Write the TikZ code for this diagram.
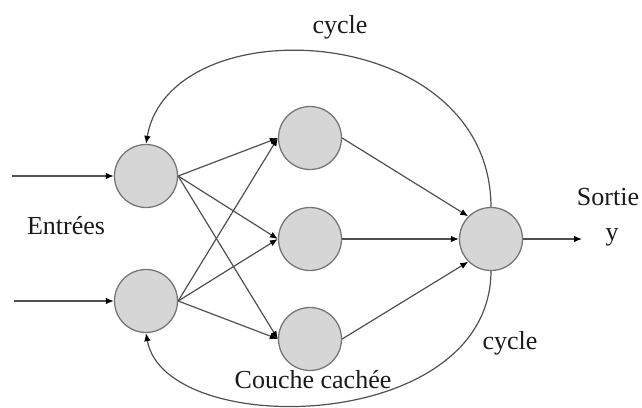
\documentclass[tikz,border=0pt]{standalone}
\usepackage{fontspec}
\setmainfont{Liberation Serif}
\usetikzlibrary{arrows.meta}
\definecolor{edgegray}{HTML}{505050}
\definecolor{neuronfill}{HTML}{D6D6D6}
\definecolor{neuronline}{HTML}{777777}
\definecolor{labelink}{HTML}{1A1A1A}
\begin{document}
\begin{tikzpicture}[x=1pt,y=-1pt,
  neuron/.style={circle,draw=neuronline,fill=neuronfill,line width=1.3pt,
    minimum size=63pt,inner sep=0pt},
  link/.style={draw=edgegray,line width=1.2pt,
    -{Latex[length=8pt,width=6.5pt,color=black]}},
  lbl/.style={text=labelink,font=\fontsize{26}{30}\selectfont,inner sep=0pt}]
  \useasboundingbox (0,0) rectangle (642,407);

  % neurons
  \node[neuron] (in1) at (146,176) {};
  \node[neuron] (in2) at (146,301) {};
  \node[neuron] (h1)  at (310,138) {};
  \node[neuron] (h2)  at (310,239) {};
  \node[neuron] (h3)  at (310,339) {};
  \node[neuron] (out) at (491,239) {};

  % free ends of the input and output lines
  \coordinate (x1) at (12,176);
  \coordinate (x2) at (14,301);
  \coordinate (y)  at (582,239);

  % inputs
  \draw[link] (x1) -- (in1.west);
  \draw[link] (x2) -- (in2.west);

  % input layer to hidden layer
  \foreach \s in {in1,in2}
    \foreach \t in {h1,h2,h3}
      \draw[link] (\s.east) -- (\t.west);

  % hidden layer to output
  \draw[link] (h1.east) -- (out.135);
  \draw[link] (h2.east) -- (out.west);
  \draw[link] (h3.east) -- (out.225);

  % output
  \draw[link] (out.east) -- (y);

  % feedback cycles
  \draw[link] (out.north) .. controls (490,20) and (170,5) .. (in1.north);
  \draw[link] (out.south) .. controls (490,435) and (165,440) .. (in2.south);

  % labels
  \node[lbl] (c1) at (340,27) {cycle};
  \node[lbl] (c2) at (510,343) {cycle};
  \node[lbl] (ent) at (66,226) {Entrées};
  \node[lbl] (sor) at (608,197) {Sortie};
  \node[lbl] (yl) at (612,237) {y};
  \node[lbl] (cc) at (313,380) {Couche cachée};
\end{tikzpicture}
\end{document}
